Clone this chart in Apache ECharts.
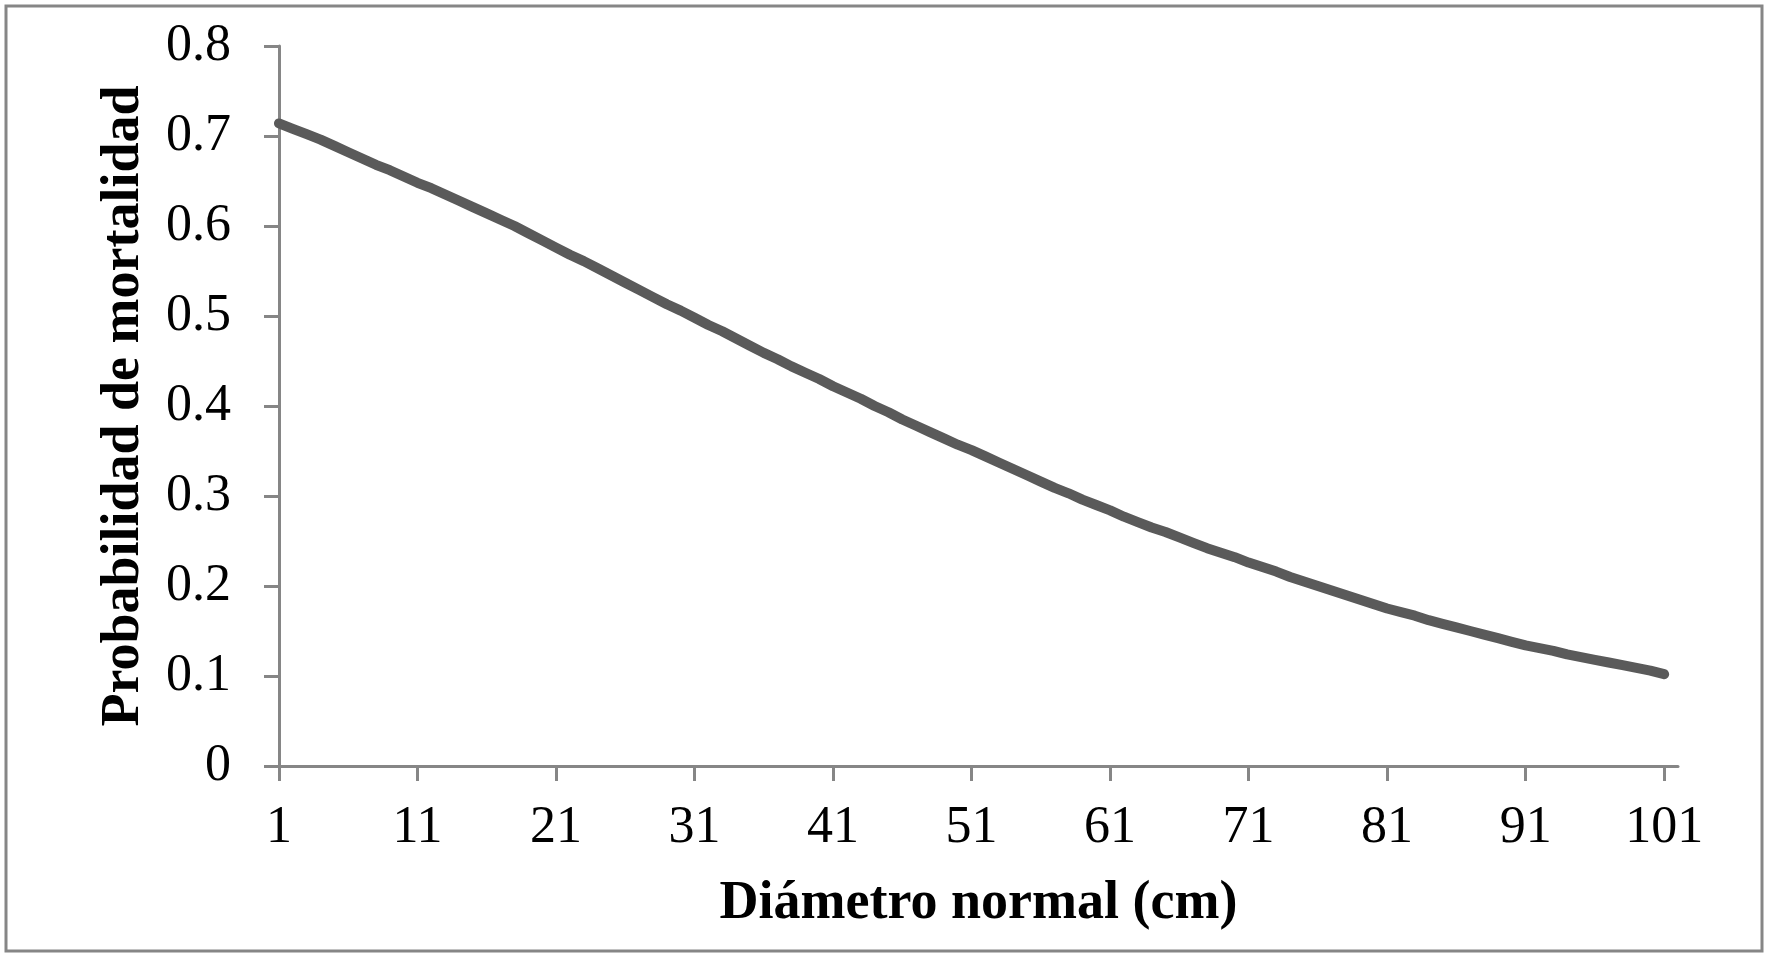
<!DOCTYPE html>
<html>
<head>
<meta charset="utf-8">
<script src="https://cdn.jsdelivr.net/npm/echarts@6/dist/echarts.min.js"></script>
<style>
html,body{margin:0;padding:0;background:#fff;}
#chart{width:1772px;height:960px;}
</style>
</head>
<body>
<div id="chart"></div>
<script>
// Diámetro normal (cm): categories 1..102 (axis runs one step past 101)
const diameters = [];
for (let d = 1; d <= 102; d++) diameters.push(String(d));

// Probabilidad de mortalidad at d = 1..101
const mortality = [
  0.714, 0.708, 0.702, 0.696, 0.689, 0.682, 0.675, 0.668, 0.662, 0.655,
  0.648, 0.642, 0.635, 0.628, 0.621, 0.614, 0.607, 0.600, 0.592, 0.584,
  0.576, 0.568, 0.561, 0.553, 0.545, 0.537, 0.529, 0.521, 0.513, 0.506,
  0.498, 0.490, 0.483, 0.475, 0.467, 0.459, 0.452, 0.444, 0.437, 0.430,
  0.422, 0.415, 0.408, 0.400, 0.393, 0.385, 0.378, 0.371, 0.364, 0.357,
  0.351, 0.344, 0.337, 0.330, 0.323, 0.316, 0.309, 0.303, 0.296, 0.290,
  0.284, 0.277, 0.271, 0.265, 0.260, 0.254, 0.248, 0.242, 0.237, 0.232,
  0.226, 0.221, 0.216, 0.210, 0.205, 0.200, 0.195, 0.190, 0.185, 0.180,
  0.175, 0.171, 0.167, 0.162, 0.158, 0.154, 0.150, 0.146, 0.142, 0.138,
  0.134, 0.131, 0.128, 0.124, 0.121, 0.118, 0.115, 0.112, 0.109, 0.106,
  0.102
];

const xTitle = 'Diámetro normal (cm)';
const yTitle = 'Probabilidad de mortalidad';

const serif = '"Liberation Serif", "Times New Roman", serif';
const axisGrey = '#868686';

const chart = echarts.init(document.getElementById('chart'), null, {renderer: 'canvas'});
chart.setOption({
  animation: false,
  backgroundColor: '#ffffff',
  graphic: [{
    type: 'rect',
    shape: {x: 6, y: 6, width: 1756, height: 945},
    style: {fill: 'none', stroke: axisGrey, lineWidth: 3},
    silent: true
  }],
  grid: {left: 279, right: 94, top: 46, bottom: 194, containLabel: false},
  xAxis: {
    type: 'category',
    data: diameters,
    boundaryGap: false,
    name: xTitle,
    nameLocation: 'middle',
    nameGap: 111,
    nameTextStyle: {fontFamily: serif, fontWeight: 'bold', fontSize: 54, color: '#000'},
    axisLine: {lineStyle: {color: axisGrey, width: 3}},
    axisTick: {show: true, interval: 9, length: 15, lineStyle: {color: axisGrey, width: 3}},
    axisLabel: {interval: 9, margin: 36, fontFamily: serif, fontSize: 52, color: '#000'},
    splitLine: {show: false}
  },
  yAxis: {
    type: 'value',
    min: 0,
    max: 0.8,
    interval: 0.1,
    name: yTitle,
    nameLocation: 'middle',
    nameGap: 128,
    nameTextStyle: {fontFamily: serif, fontWeight: 'bold', fontSize: 54, color: '#000'},
    axisLine: {show: true, lineStyle: {color: axisGrey, width: 3}},
    axisTick: {show: true, length: 15, lineStyle: {color: axisGrey, width: 3}},
    axisLabel: {margin: 48, fontFamily: serif, fontSize: 52, color: '#000',
      formatter: v => (Math.round(v * 10) / 10).toString()},
    splitLine: {show: false}
  },
  series: [{
    type: 'line',
    data: mortality,
    showSymbol: false,
    symbol: 'none',
    smooth: false,
    lineStyle: {color: '#5a5a5a', width: 10, cap: 'round', join: 'round'}
  }]
});
</script>
</body>
</html>
